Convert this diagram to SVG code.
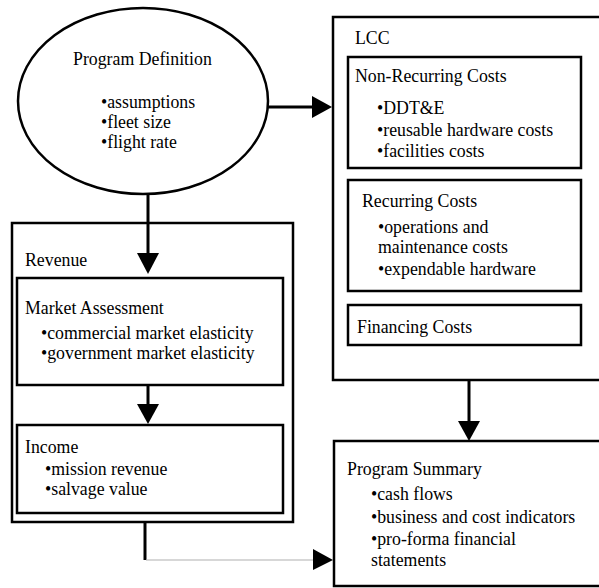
<svg xmlns="http://www.w3.org/2000/svg" width="599" height="588" viewBox="0 0 599 588">
<style>
text{font-family:"Liberation Serif","Times New Roman",serif;font-size:17.8px;fill:#000}
.box{fill:#fff;stroke:#000;stroke-width:2.5}
.line{fill:none;stroke:#000;stroke-width:3}
.thin{fill:none;stroke:#b0b0b0;stroke-width:1.2}
.head{fill:#000;stroke:none}
</style>
<rect width="599" height="588" fill="#fff"/>
<g id="program-definition">
<ellipse cx="143" cy="101" rx="125" ry="93" class="box"/>
<text x="73" y="65">Program Definition</text>
<text x="101" y="108">•assumptions</text>
<text x="101" y="128">•fleet size</text>
<text x="101" y="148">•flight rate</text>
</g>
<g id="lcc">
<rect x="333" y="17" width="270" height="363" class="box"/>
<text x="355" y="44">LCC</text>
</g>
<g id="non-recurring">
<rect x="348" y="57" width="233" height="111" class="box"/>
<text x="355" y="82">Non-Recurring Costs</text>
<text x="377" y="114">•DDT&amp;E</text>
<text x="377" y="136">•reusable hardware costs</text>
<text x="377" y="157">•facilities costs</text>
</g>
<g id="recurring">
<rect x="348" y="180" width="233" height="111" class="box"/>
<text x="362" y="207">Recurring Costs</text>
<text x="378" y="233">•operations and</text>
<text x="378" y="253">maintenance costs</text>
<text x="378" y="275">•expendable hardware</text>
</g>
<g id="financing">
<rect x="348" y="305" width="233" height="40" class="box"/>
<text x="357" y="333">Financing Costs</text>
</g>
<g id="revenue">
<rect x="12" y="223" width="281" height="299" class="box"/>
<text x="25" y="266">Revenue</text>
</g>
<g id="market-assessment">
<rect x="17" y="278" width="266" height="107" class="box"/>
<text x="25" y="314">Market Assessment</text>
<text x="41" y="339">•commercial market elasticity</text>
<text x="41" y="359">•government market elasticity</text>
</g>
<g id="income">
<rect x="17" y="425" width="266" height="88" class="box"/>
<text x="25" y="453">Income</text>
<text x="45" y="475">•mission revenue</text>
<text x="45" y="495">•salvage value</text>
</g>
<g id="program-summary">
<rect x="334" y="441" width="270" height="145" class="box"/>
<text x="347" y="475">Program Summary</text>
<text x="371" y="500">•cash flows</text>
<text x="371" y="523">•business and cost indicators</text>
<text x="371" y="545">•pro-forma financial</text>
<text x="371" y="566">statements</text>
</g>
<g id="connectors">
<line x1="268" y1="107" x2="313" y2="107" class="line"/>
<polygon points="312,96 332,107 312,118" class="head"/>
<line x1="148" y1="194" x2="148" y2="255" class="line"/>
<polygon points="137,253 159,253 148,274" class="head"/>
<line x1="148" y1="385" x2="148" y2="406" class="line"/>
<polygon points="137,404 159,404 148,424" class="head"/>
<line x1="469" y1="380" x2="469" y2="422" class="line"/>
<polygon points="458,421 480,421 469,441" class="head"/>
<line x1="145" y1="522" x2="145" y2="560" class="line"/>
<line x1="146" y1="560" x2="314" y2="560" class="thin"/>
<polygon points="313,549 333,560 313,570" class="head"/>
</g>
</svg>
